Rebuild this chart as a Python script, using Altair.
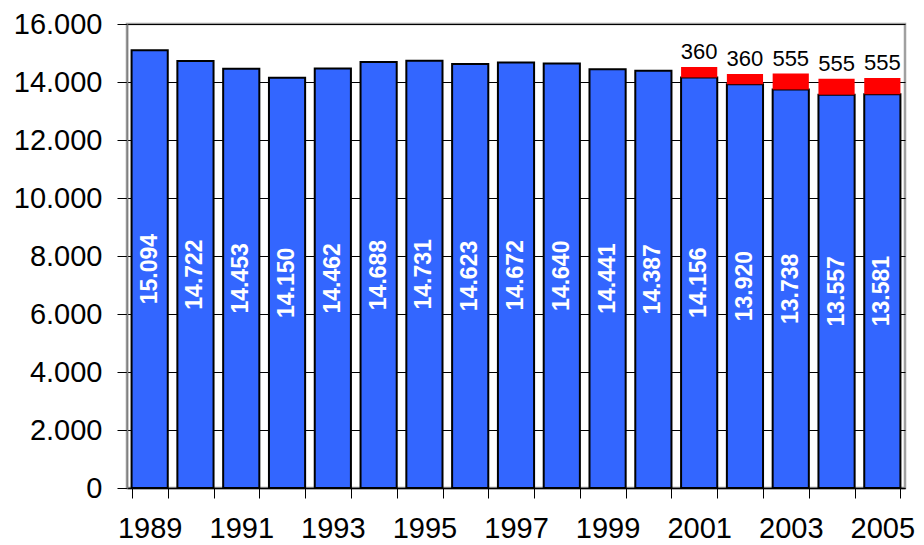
import altair as alt
import pandas as pd

years = [str(y) for y in range(1989, 2006)]
base_values = [15094, 14722, 14453, 14150, 14462, 14688, 14731, 14623, 14672,
               14640, 14441, 14387, 14156, 13920, 13738, 13557, 13581]
extra_values = [0, 0, 0, 0, 0, 0, 0, 0, 0, 0, 0, 0, 360, 360, 555, 555, 555]

df = pd.DataFrame({"year": years, "base": base_values, "extra": extra_values})
df["total"] = df["base"] + df["extra"]
df["mid"] = df["base"] / 2
df["base_label"] = df["base"].map(lambda v: f"{v:,}".replace(",", "."))
df["extra_label"] = df["extra"].map(lambda v: str(v) if v > 0 else "")

FONT = "Liberation Sans"

x = alt.X("year:O",
          scale=alt.Scale(paddingInner=0.21, paddingOuter=0.1),
          axis=alt.Axis(title=None, labelAngle=0, tickBand="extent",
                        labelExpr="toNumber(datum.value) % 2 == 1 ? datum.label : ''",
                        labelFontSize=29, labelFont=FONT, labelColor="black",
                        tickSize=10, tickColor="black", labelPadding=16,
                        domainColor="black", domainWidth=1.5, grid=False))

yscale = alt.Scale(domain=[0, 16000], nice=False)
yaxis = alt.Axis(title=None, values=list(range(0, 16001, 2000)),
                 labelExpr="replace(format(datum.value, ',d'), ',', '.')",
                 labelFontSize=29, labelFont=FONT, labelColor="black",
                 tickSize=10, tickColor="black", labelPadding=15,
                 domainColor="#808080", domainWidth=1.5,
                 grid=True, gridColor="black", gridWidth=1)

base_bars = alt.Chart(df).mark_bar(color="#3366FF", stroke="black", strokeWidth=2).encode(
    x=x, y=alt.Y("base:Q", scale=yscale, axis=yaxis))

extra_bars = alt.Chart(df).transform_filter("datum.extra > 0").mark_bar(color="#FF0000").encode(
    x="year:O", y=alt.Y("base:Q"), y2="total:Q")

base_text = alt.Chart(df).mark_text(angle=270, align="center", baseline="middle",
                                    color="white", fontWeight="bold", fontSize=23,
                                    font=FONT).encode(
    x="year:O", y="mid:Q", text="base_label:N")

extra_text = alt.Chart(df).transform_filter("datum.extra > 0").mark_text(
    align="center", baseline="bottom", dy=-3, color="black", fontSize=22,
    font=FONT).encode(x="year:O", y="total:Q", text="extra_label:N")

chart = alt.layer(base_bars, extra_bars, base_text, extra_text).properties(
    width=778, height=464,
    autosize=alt.AutoSizeParams(type="none"),
    padding={"left": 119, "top": 16, "right": 11, "bottom": 57},
    background="white",
).configure_view(stroke="#A0A0A0", strokeWidth=2.5)

chart.save("out.html", embed_options={"renderer": "svg", "actions": False})
